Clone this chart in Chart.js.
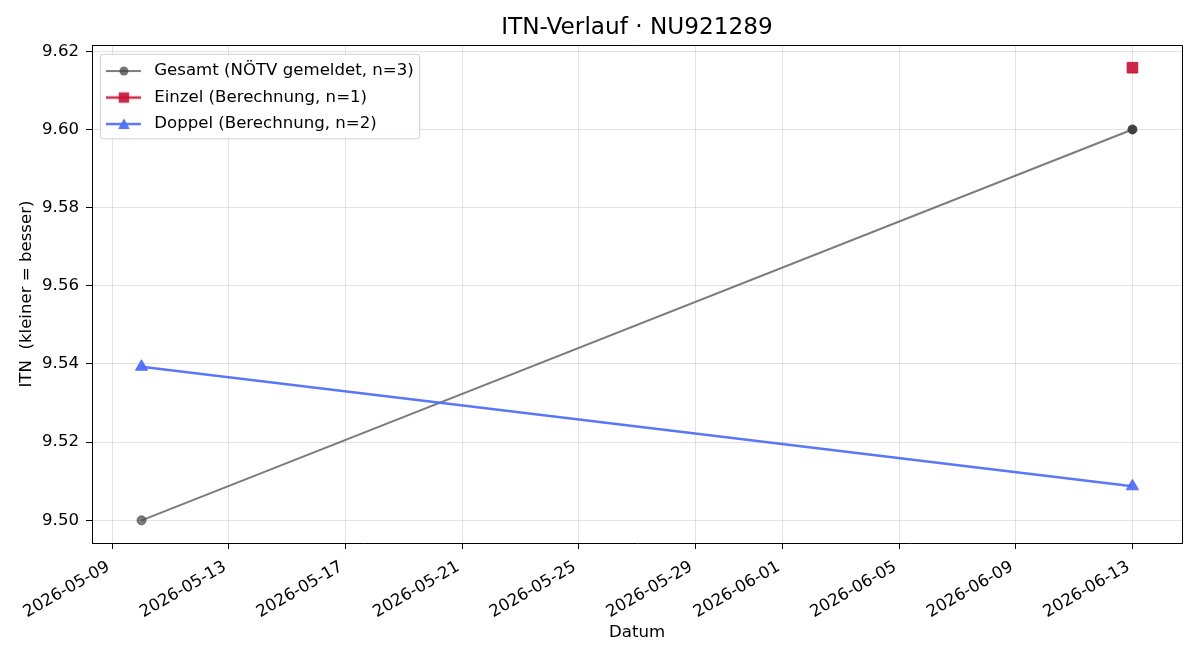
<!DOCTYPE html>
<html><head><meta charset="utf-8">
<script src="https://cdn.jsdelivr.net/npm/chart.js@4/dist/chart.umd.min.js"></script>
<style>html,body{margin:0;padding:0;background:#fff;}canvas{display:block;}</style>
</head><body>
<canvas id="c" width="1200" height="660"></canvas>
<script>
const titleText = 'ITN-Verlauf · NU921289';
const xAxisLabel = 'Datum';
const yAxisLabel = 'ITN  (kleiner = besser)';
const seriesLabels = ['Gesamt (NÖTV gemeldet, n=3)', 'Einzel (Berechnung, n=1)', 'Doppel (Berechnung, n=2)'];
const gesamtDates = ['2026-05-10', '2026-06-13'];
const gesamtValues = [9.50, 9.60];
const einzelDates = ['2026-06-13'];
const einzelValues = [9.6158];
const doppelDates = ['2026-05-10', '2026-06-13'];
const doppelValues = [9.5393, 9.5087];
const xTickLabels = ['2026-05-09','2026-05-13','2026-05-17','2026-05-21','2026-05-25','2026-05-29','2026-06-01','2026-06-05','2026-06-09','2026-06-13'];
const yTickValues = [9.50, 9.52, 9.54, 9.56, 9.58, 9.60, 9.62];
const xFirstDate = '2026-05-10', xLastDate = '2026-06-13', xMarginDays = 1.7;
const yMin = 9.4942, yMax = 9.6216;

const colGesamtLine = 'rgba(68,68,68,0.7)';
const colEinzel = 'rgba(200,22,55,0.92)';
const colDoppel = 'rgba(80,112,245,0.95)';
const FS = 16.6;

function dayOf(s){ const p = s.split('-').map(Number); return Date.UTC(p[0], p[1]-1, p[2]) / 86400000; }
function dateOf(d){ return new Date(Math.round(d) * 86400000).toISOString().slice(0,10); }
function pts(dates, vals){ return dates.map((d,i)=>({x: dayOf(d), y: vals[i]})); }

function makeHandle(lineColor, lw, style, markerColor){
  const c = document.createElement('canvas'); c.width = 44; c.height = 16;
  const g = c.getContext('2d');
  g.strokeStyle = lineColor; g.lineWidth = lw;
  g.beginPath(); g.moveTo(4, 8); g.lineTo(39, 8); g.stroke();
  g.fillStyle = markerColor;
  const cx = 22, cy = 8;
  g.beginPath();
  if (style === 'circle') { g.arc(cx, cy, 4.5, 0, Math.PI*2); }
  else if (style === 'rect') { g.rect(cx-5.2, cy-5.2, 10.4, 10.4); }
  else { g.moveTo(cx, cy-5.8); g.lineTo(cx+5.8, cy+5); g.lineTo(cx-5.8, cy+5); g.closePath(); }
  g.fill();
  return c;
}
const handles = [
  makeHandle(colGesamtLine, 2, 'circle', 'rgba(68,68,68,0.75)'),
  makeHandle(colEinzel, 2.5, 'rect', colEinzel),
  makeHandle(colDoppel, 2.5, 'triangle', colDoppel)
];

Chart.defaults.font.family = '"DejaVu Sans", sans-serif';
Chart.defaults.font.size = FS;
Chart.defaults.color = '#000';

const framePlugin = {
  id: 'frame',
  afterUpdate(chart){
    const lg = chart.legend;
    if (!lg) return;
    lg.top = chart.chartArea.top;
    lg.bottom = chart.chartArea.bottom;
    lg.height = lg.bottom - lg.top;
    if (!lg._framed){
      const orig = lg.draw.bind(lg);
      lg.draw = function(area){
        const hb = lg.legendHitBoxes || [];
        if (hb.length){
          const ctx = chart.ctx;
          const pad = lg.options.labels.padding;
          const l = lg.left + pad;
          const t = lg.top + lg._computeTitleHeight() + pad;
          let w = 0, h = 0;
          hb.forEach((b, i) => { w = Math.max(w, b.width); h += b.height + (i ? pad : 0); });
          ctx.save();
          ctx.beginPath();
          ctx.roundRect(l - 1.5, t - 8.5, w + 7.5, h + 15, 3);
          ctx.fillStyle = 'rgba(255,255,255,0.9)';
          ctx.fill();
          ctx.strokeStyle = 'rgba(204,204,204,0.9)';
          ctx.lineWidth = 1;
          ctx.stroke();
          ctx.restore();
        }
        orig(area);
      };
      lg._framed = true;
    }
  },
  afterDraw(chart){
    const a = chart.chartArea, ctx = chart.ctx;
    ctx.save();
    ctx.strokeStyle = '#000'; ctx.lineWidth = 1;
    ctx.beginPath();
    ctx.moveTo(Math.round(a.left) + 0.5, Math.round(a.top) + 0.5);
    ctx.lineTo(Math.round(a.right) + 0.5, Math.round(a.top) + 0.5);
    ctx.lineTo(Math.round(a.right) + 0.5, Math.round(a.bottom) + 0.5);
    ctx.stroke();
    ctx.restore();
  }
};

new Chart(document.getElementById('c'), {
  type: 'line',
  data: {
    datasets: [
      { label: seriesLabels[0], data: pts(gesamtDates, gesamtValues), order: 3,
        borderColor: colGesamtLine, borderWidth: 2, tension: 0,
        pointStyle: 'circle', pointRadius: 4.5, pointHoverRadius: 4.5,
        pointBackgroundColor: ['rgba(68,68,68,0.7)', '#404040'],
        pointBorderColor: ['rgba(68,68,68,0.7)', '#404040'], pointBorderWidth: 1 },
      { label: seriesLabels[1], data: pts(einzelDates, einzelValues), order: 2,
        borderColor: colEinzel, borderWidth: 2.5, tension: 0,
        pointStyle: 'rect', pointRadius: 7.5, pointHoverRadius: 7.5,
        pointBackgroundColor: colEinzel, pointBorderColor: colEinzel, pointBorderWidth: 1 },
      { label: seriesLabels[2], data: pts(doppelDates, doppelValues), order: 1,
        borderColor: colDoppel, borderWidth: 2.5, tension: 0,
        pointStyle: 'triangle', pointRadius: 7, pointHoverRadius: 7,
        pointBackgroundColor: colDoppel, pointBorderColor: colDoppel, pointBorderWidth: 1 }
    ]
  },
  options: {
    responsive: false, animation: false, devicePixelRatio: 1,
    layout: { padding: { left: 0, right: 18, top: 0, bottom: 0 } },
    plugins: {
      title: { display: true, fullSize: false, text: titleText, font: { size: 23.2, weight: 'normal' }, color: '#000',
               padding: { top: 14, bottom: 3.2 } },
      tooltip: { enabled: false },
      legend: {
        position: 'chartArea', align: 'start',
        title: { display: true, text: '', font: { size: 6.5 }, padding: 0 },
        labels: {
          usePointStyle: true, pointStyleWidth: 44, padding: 9.9,
          font: { size: FS }, color: '#000',
          generateLabels: (chart) => chart.data.datasets.map((ds, i) => ({
            text: ds.label, pointStyle: handles[i], datasetIndex: i, hidden: false,
            fillStyle: 'transparent', strokeStyle: 'transparent', lineWidth: 0, fontColor: '#000'
          }))
        }
      }
    },
    scales: {
      x: {
        type: 'linear',
        min: dayOf(xFirstDate) - xMarginDays, max: dayOf(xLastDate) + xMarginDays,
        afterBuildTicks: (s) => { s.ticks = xTickLabels.map(t => ({ value: dayOf(t) })); },
        afterFit: (s) => { s.height = 117; },
        ticks: { autoSkip: false, minRotation: 30, maxRotation: 30, padding: 8, labelOffset: -4, color: '#000',
                 font: { size: FS }, callback: (v) => dateOf(v) },
        grid: { color: 'rgba(176,176,176,0.35)', lineWidth: 1, tickLength: 6, tickColor: '#000', tickWidth: 1 },
        border: { display: true, color: '#000', width: 1 },
        title: { display: true, text: xAxisLabel, font: { size: FS }, color: '#000', padding: { top: 0, bottom: 17 } }
      },
      y: {
        type: 'linear', min: yMin, max: yMax,
        afterBuildTicks: (s) => { s.ticks = yTickValues.map(v => ({ value: v })); },
        afterFit: (s) => { s.width = 92; },
        ticks: { padding: 7, color: '#000', font: { size: FS }, callback: (v) => Number(v).toFixed(2) },
        grid: { color: 'rgba(176,176,176,0.35)', lineWidth: 1, tickLength: 6, tickColor: '#000', tickWidth: 1 },
        border: { display: true, color: '#000', width: 1 },
        title: { display: true, text: yAxisLabel, font: { size: FS }, color: '#000', padding: { top: 17, bottom: 0 } }
      }
    }
  },
  plugins: [framePlugin]
});
</script>
</body></html>
